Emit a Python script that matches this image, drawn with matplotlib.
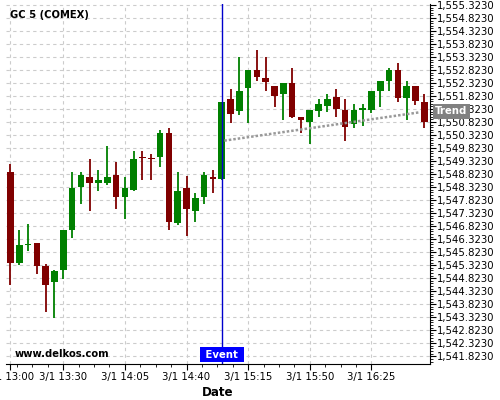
import numpy as np
import matplotlib
matplotlib.use("Agg")
import matplotlib.pyplot as plt
import matplotlib.transforms as mtransforms
from matplotlib.ticker import FixedLocator, FuncFormatter

# 5-minute candles, 3/1 13:00 onwards
opens = [1548.91, 1545.39, 1546.10, 1546.18, 1545.30, 1544.69, 1545.12, 1546.69,
         1548.31, 1548.72, 1548.50, 1548.50, 1548.80, 1547.93, 1548.20, 1549.49,
         1549.46, 1549.50, 1550.41, 1546.93, 1548.30, 1547.42, 1547.93, 1548.72,
         1548.62, 1551.72, 1551.23, 1552.12, 1552.84, 1552.53, 1552.22, 1551.92,
         1552.34, 1551.03, 1550.81, 1551.23, 1551.44, 1551.80, 1551.30, 1550.73,
         1551.30, 1551.30, 1552.03, 1552.41, 1552.84, 1551.73, 1552.22, 1551.60]
closes = [1545.39, 1546.10, 1546.15, 1545.31, 1544.58, 1545.10, 1546.68, 1548.30,
          1548.80, 1548.50, 1548.60, 1548.72, 1547.93, 1548.30, 1549.41, 1549.43,
          1549.40, 1550.41, 1547.00, 1548.18, 1547.50, 1547.91, 1548.80, 1548.62,
          1551.60, 1551.12, 1552.03, 1552.84, 1552.54, 1552.35, 1551.81, 1552.34,
          1551.03, 1550.92, 1551.30, 1551.53, 1551.72, 1551.31, 1550.62, 1551.30,
          1551.35, 1552.03, 1552.41, 1552.84, 1551.73, 1552.22, 1551.62, 1550.81]
highs = [1549.21, 1546.67, 1546.90, 1546.18, 1545.36, 1545.12, 1546.68, 1548.91,
         1548.91, 1549.40, 1548.98, 1549.91, 1549.28, 1548.70, 1549.72, 1549.72,
         1549.59, 1550.53, 1550.59, 1548.91, 1548.77, 1548.09, 1548.91, 1548.98,
         1551.60, 1552.09, 1553.32, 1552.84, 1553.61, 1553.32, 1552.22, 1552.34,
         1552.90, 1551.03, 1551.30, 1551.71, 1551.90, 1552.09, 1551.71, 1551.53,
         1551.52, 1552.03, 1552.41, 1552.90, 1553.09, 1552.41, 1552.22, 1551.90]
lows = [1544.57, 1545.34, 1545.85, 1544.98, 1543.54, 1543.28, 1544.79, 1546.36,
        1547.67, 1547.41, 1548.17, 1548.41, 1547.48, 1547.09, 1548.16, 1548.59,
        1548.59, 1549.08, 1546.67, 1546.87, 1546.46, 1546.99, 1547.67, 1548.09,
        1548.60, 1550.78, 1551.08, 1550.78, 1552.39, 1552.01, 1551.39, 1550.90,
        1550.98, 1550.40, 1549.98, 1551.02, 1551.21, 1551.02, 1550.09, 1550.59,
        1550.68, 1551.19, 1551.39, 1552.00, 1551.58, 1550.90, 1551.49, 1550.59]

tick_pos = [0, 6, 13, 20, 27, 34, 41]
tick_labels = ["3/1 13:00", "3/1 13:30", "3/1 14:05", "3/1 14:40",
               "3/1 15:15", "3/1 15:50", "3/1 16:25"]
event_idx = 24
trend_x = [24.3, 46.5]
trend_y = [1550.11, 1551.20]
trend_label_y = 1551.23

up_col = "#008000"
down_col = "#800000"

fig = plt.figure(figsize=(5, 4), dpi=100)
ax = fig.add_axes([0.012, 0.09, 0.848, 0.9])

o = np.array(opens)
c = np.array(closes)
x = np.arange(len(o))
cols = [up_col if cc >= oo else down_col for oo, cc in zip(o, c)]

ax.vlines(x, lows, highs, colors=cols, lw=1.3, zorder=3)
body = np.maximum(np.abs(c - o), 0.05)
ax.bar(x, body, bottom=np.minimum(o, c), width=0.75, color=cols, zorder=4)

# trend line
ax.plot(trend_x, trend_y, color="#999999", lw=1.8, ls=(0, (1, 0.8)), zorder=5)

# event marker
ax.axvline(event_idx, color="#0000cc", lw=1, zorder=6)
blend = mtransforms.blended_transform_factory(ax.transData, ax.transAxes)
ax.text(event_idx, 0.012, " Event ", transform=blend, ha="center", va="bottom",
        color="white", fontsize=7.3, fontweight="bold", zorder=7,
        bbox=dict(boxstyle="square,pad=0.25", fc="#0000ff", ec="none"))

blend_y = mtransforms.blended_transform_factory(ax.transAxes, ax.transData)
ax.text(1.012, trend_label_y, "Trend", transform=blend_y, ha="left", va="center",
        color="white", fontsize=7.3, fontweight="bold", zorder=10, clip_on=False,
        bbox=dict(boxstyle="square,pad=0.25", fc="#808080", ec="none"))

ax.text(0.009, 0.969, "GC 5 (COMEX)", transform=ax.transAxes, ha="left",
        va="center", fontsize=7.2, fontweight="bold")
ax.text(0.021, 0.028, "www.delkos.com", transform=ax.transAxes, ha="left",
        va="center", fontsize=7.2, fontweight="bold")

ax.set_xlim(-0.5, 47.65)
ax.set_ylim(1541.527, 1555.36)

ax.xaxis.set_major_locator(FixedLocator(tick_pos))
ax.set_xticklabels(tick_labels, fontsize=7.3)
ax.xaxis.set_minor_locator(FixedLocator(np.arange(41, -1, -1.75)))
ax.tick_params(axis="x", which="major", length=4, pad=2)
ax.tick_params(axis="x", which="minor", length=2)

ax.yaxis.tick_right()
ax.yaxis.set_major_locator(FixedLocator(np.arange(1541.823, 1555.4, 0.5)))
ax.yaxis.set_minor_locator(FixedLocator(np.arange(1541.623, 1555.4, 0.1)))
ax.yaxis.set_major_formatter(FuncFormatter(lambda v, p: f"{v:,.4f}"))
ax.tick_params(axis="y", which="major", labelsize=7.3, length=4, pad=1)
ax.tick_params(axis="y", which="minor", length=2)

ax.grid(True, which="major", color="#cccccc", ls=(0, (3, 3)), lw=0.8)
ax.set_axisbelow(True)

for s in ["left", "top"]:
    ax.spines[s].set_visible(False)

ax.set_xlabel("Date", fontsize=8.6, fontweight="bold", labelpad=3)

fig.savefig("out.png", dpi=100)
